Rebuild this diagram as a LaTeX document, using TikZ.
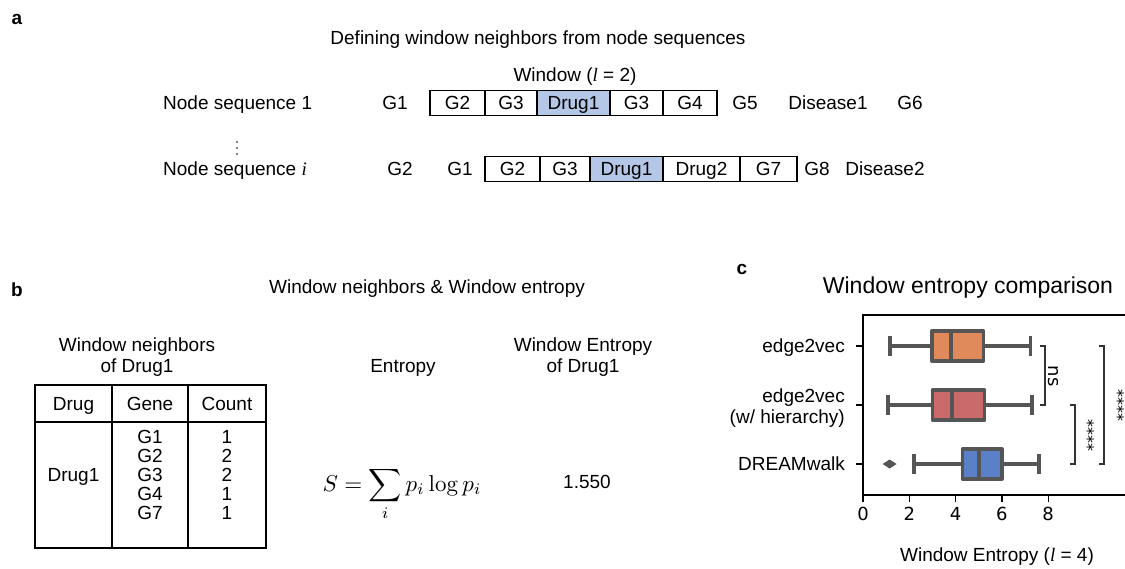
\documentclass[tikz,border=0pt]{standalone}
\usepackage[no-math]{fontspec}
\setmainfont{Liberation Sans}
\newfontfamily\dejavu{DejaVu Sans}
\newfontfamily\serifit{Liberation Serif}
\definecolor{hlblue}{HTML}{B4C7E7}
\definecolor{bxorange}{HTML}{E0895A}
\definecolor{bxred}{HTML}{CB6A6A}
\definecolor{bxblue}{HTML}{5A80C8}
\definecolor{bxgray}{HTML}{555555}
\newcommand{\ital}[1]{{\serifit\itshape #1}}
\tikzset{
  txt/.style={font=\fontsize{19}{21}\selectfont, inner sep=0pt, text height=13.7pt, text depth=0pt},
  ml/.style={font=\fontsize{19}{21.5}\selectfont, inner sep=0pt, align=center},
  ttl/.style={font=\fontsize{19}{21}\selectfont, inner sep=0pt, text height=13.7pt, text depth=0pt},
  ttlc/.style={font=\fontsize{23}{25}\selectfont, inner sep=0pt, text height=16.5pt, text depth=0pt},
  panel/.style={font=\fontsize{19}{21}\selectfont\bfseries, inner sep=0pt, text height=13.7pt, text depth=0pt},
  cell/.style={draw=black, line width=1.6pt, minimum height=25pt, inner sep=0pt, font=\fontsize{19}{21}\selectfont, text height=13.7pt, text depth=0pt},
  hcell/.style={cell, fill=hlblue},
  tick/.style={font=\dejavu\fontsize{18}{20}\selectfont, inner sep=0pt, text height=13pt, text depth=0pt},
  star/.style={font=\dejavu\fontsize{16}{18}\selectfont, inner sep=0pt, rotate=-90},
  bx/.style={draw=bxgray, line width=3.5pt, line join=round},
  wh/.style={draw=bxgray, line width=3.5pt, line cap=butt},
  br/.style={draw=black!80, line width=1.5pt, line join=miter},
  ax/.style={draw=black, line width=1.2pt},
}
\newcommand{\bxrow}[7]{%
  \draw[wh] ({863+23.15*#2},#1) -- ({863+23.15*#3},#1);
  \draw[wh] ({863+23.15*#5},#1) -- ({863+23.15*#6},#1);
  \draw[wh] ({863+23.15*#2},#1-10) -- ({863+23.15*#2},#1+10);
  \draw[wh] ({863+23.15*#6},#1-10) -- ({863+23.15*#6},#1+10);
  \filldraw[bx, fill=#7] ({863+23.15*#3},#1-15) rectangle ({863+23.15*#5},#1+15);
  \draw[bx] ({863+23.15*#4},#1-15) -- ({863+23.15*#4},#1+15);
}
\begin{document}
\begin{tikzpicture}[x=1pt,y=-1pt]
\useasboundingbox (0,0) rectangle (1125,568);

% ---------------- panel a ----------------
\node[panel] (pa) at (17,18) {a};
\node[ttl] (ta) at (538,38) {Defining window neighbors from node sequences};
\node[txt] (win) at (575,75) {Window (\ital{l} = 2)};

\node[txt, anchor=west] (ns1) at (163,103) {Node sequence 1};
\node[txt] (r1a) at (395,103) {G1};
\node[cell, minimum width=55pt] (r1c1) at (457.5,103) {G2};
\node[cell, minimum width=52pt] (r1c2) at (511,103) {G3};
\node[hcell, minimum width=73pt] (r1c3) at (573.5,103) {Drug1};
\node[cell, minimum width=53pt] (r1c4) at (636.5,103) {G3};
\node[cell, minimum width=54pt] (r1c5) at (690,103) {G4};
\node[txt] (r1b) at (745,103) {G5};
\node[txt] (r1c) at (828,103) {Disease1};
\node[txt] (r1d) at (910,103) {G6};

\fill (237,142) circle (0.9pt) (237,148) circle (0.9pt) (237,154) circle (0.9pt);

\node[txt, anchor=west] (nsi) at (163,169) {Node sequence \ital{i}};
\node[txt] (r2a) at (400,169) {G2};
\node[txt] (r2b) at (460,169) {G1};
\node[cell, minimum width=55pt] (r2c1) at (512.5,169) {G2};
\node[cell, minimum width=50pt] (r2c2) at (565,169) {G3};
\node[hcell, minimum width=73pt] (r2c3) at (626.5,169) {Drug1};
\node[cell, minimum width=77pt] (r2c4) at (701.5,169) {Drug2};
\node[cell, minimum width=57pt] (r2c5) at (768.5,169) {G7};
\node[txt] (r2d) at (817,169) {G8};
\node[txt] (r2e) at (885,169) {Disease2};

% ---------------- panel b ----------------
\node[panel] (pb) at (17,290) {b};
\node[ttl] (tb) at (427,287) {Window neighbors \& Window entropy};
\node[ml] (wn) at (137,357) {Window neighbors\\of Drug1};
\node[txt] (ent) at (403,366) {Entropy};
\node[ml] (we) at (583,357) {Window Entropy\\of Drug1};

\draw[line width=1.8pt] (35,385) rectangle (266,548);
\draw[line width=1.1pt] (35,422) -- (266,422);
\draw[line width=1.1pt] (112,385) -- (112,548);
\draw[line width=1.1pt] (188,385) -- (188,548);
\node[txt] (hd) at (73.5,404) {Drug};
\node[txt] (hg) at (150,404) {Gene};
\node[txt] (hc) at (227,404) {Count};
\node[txt] (dr) at (73.5,475) {Drug1};
\foreach \g/\c [count=\k from 0] in {G1/1,G2/2,G3/2,G4/1,G7/1} {
  \node[txt] (g\k) at (150,437+19*\k) {\g};
  \node[txt] (c\k) at (227,437+19*\k) {\c};
}
\node[scale=2.3, inner sep=0pt, anchor=base] (fm) at (402,491) {$\displaystyle S=\sum_i p_i\log p_i$};
\node[txt] (val) at (587,482) {1.550};

% ---------------- panel c ----------------
\node[panel] (pc) at (742,268) {c};
\node[ttlc] (tc) at (968,285) {Window entropy comparison};

\bxrow{346}{1.17}{2.97}{3.80}{5.20}{7.24}{bxorange}
\bxrow{405}{1.08}{3.00}{3.85}{5.25}{7.30}{bxred}
\bxrow{464}{2.20}{4.30}{5.00}{6.00}{7.60}{bxblue}
\fill[bxgray] ({863+23.15*1.15-7},464) -- ({863+23.15*1.15},459.5) -- ({863+23.15*1.15+7},464) -- ({863+23.15*1.15},468.5) -- cycle;

\draw[ax] (1125,315) -- (863,315) -- (863,495) -- (1125,495);
\foreach \yy in {346,405,464} \draw[ax] (856,\yy) -- (863,\yy);
\foreach \v in {0,2,4,6,8} {
  \draw[ax] ({863+23.15*\v},495) -- ({863+23.15*\v},502);
  \node[tick] (xt\v) at ({863+23.15*\v},514) {\v};
}
\node[txt, anchor=east] (y1) at (845,346) {edge2vec};
\node[ml, anchor=east, align=right] (y2) at (845,408) {edge2vec\\(w/ hierarchy)};
\node[txt, anchor=east] (y3) at (845,464) {DREAMwalk};
\node[txt] (xl) at (997,555) {Window Entropy (\ital{l} = 4)};

\draw[br] (1040,346) -- (1045,346) -- (1045,405) -- (1040,405);
\draw[br] (1070,405) -- (1075,405) -- (1075,464) -- (1070,464);
\draw[br] (1099,346) -- (1104,346) -- (1104,464) -- (1099,464);
\node[tick, rotate=-90] (ns) at (1055,376) {ns};
\node[star] (s1) at (1088,435) {****};
\node[star] (s2) at (1118,405) {****};
\end{tikzpicture}
\end{document}
